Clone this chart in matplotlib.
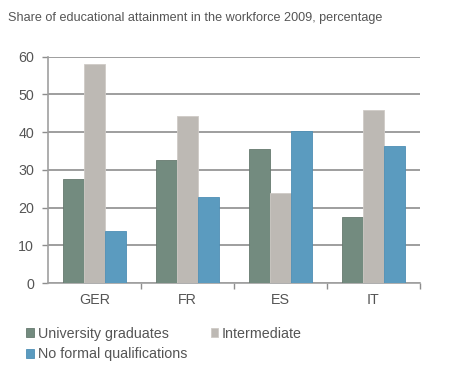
import numpy as np
import matplotlib.pyplot as plt

countries = ['GER', 'FR', 'ES', 'IT']
university = [27.7, 32.6, 35.5, 17.4]
intermediate = [57.9, 44.2, 23.9, 45.8]
no_formal = [13.9, 22.9, 40.2, 36.2]

plt.rcParams['font.family'] = ['Liberation Sans', 'DejaVu Sans']

fig = plt.figure(figsize=(4.5, 3.77), dpi=100)
ax = fig.add_axes([0.1067, 0.249, 0.8266, 0.601])

x = np.arange(len(countries))
w = 0.225
b1 = ax.bar(x - w, university, w, color='#738b7f', edgecolor='#66796f', linewidth=0.6,
            label='University graduates', zorder=3)
b2 = ax.bar(x, intermediate, w, color='#bdb9b4', edgecolor='#cfcbc6', linewidth=0.6,
            label='Intermediate', zorder=3)
b3 = ax.bar(x + w, no_formal, w, color='#5b9bbf', edgecolor='#4e8fb5', linewidth=0.6,
            label='No formal qualifications', zorder=3)

ax.set_xlim(-0.5, 3.5)
ax.set_ylim(0, 60)
ax.set_yticks(range(0, 61, 10))
ax.yaxis.grid(True, color='#8d8d8d', linewidth=1.2, zorder=0)
ax.set_axisbelow(True)

ax.set_xticks(x)
ax.set_xticklabels(countries)
ax.set_xticks([0.5, 1.5, 2.5, 3.5], minor=True)
ax.tick_params(axis='x', which='major', length=0, pad=7, labelsize=10.3, labelcolor='#555555')
ax.tick_params(axis='x', which='minor', length=4, color='#8d8d8d', width=1)
ax.tick_params(axis='y', length=4, color='#8d8d8d', width=1, labelsize=10.3,
               labelcolor='#555555', pad=6)

for s in ['top', 'right']:
    ax.spines[s].set_visible(False)
for s in ['left', 'bottom']:
    ax.spines[s].set_color('#a0a0a0')
    ax.spines[s].set_linewidth(1.2)

fig.text(0.018, 0.953, 'Share of educational attainment in the workforce 2009, percentage',
         fontsize=9.1, color='#555555', va='center')

fig.legend([b1, b3, b2], ['University graduates', 'No formal qualifications', 'Intermediate'],
           ncol=2, loc='upper left', bbox_to_anchor=(0.058, 0.133), frameon=False,
           fontsize=10.3, handlelength=0.55, handleheight=0.55, handletextpad=0.25,
           columnspacing=1.65, labelspacing=0.45, borderaxespad=0, borderpad=0,
           labelcolor='#555555')

fig.savefig('out.png', dpi=100)
